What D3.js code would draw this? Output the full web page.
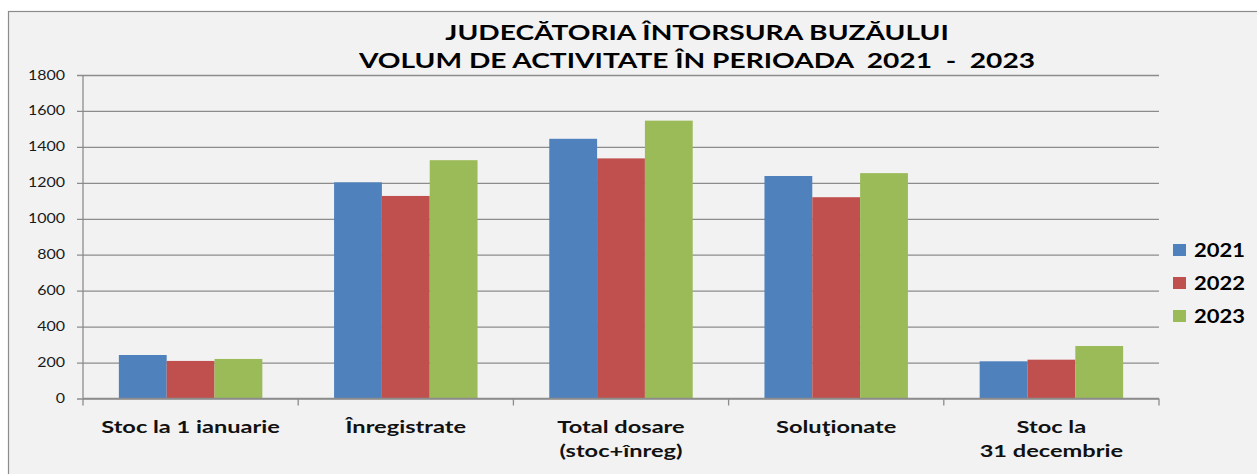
<!DOCTYPE html>
<html lang="ro">
<head>
  <meta charset="UTF-8">
  <title>Judecătoria Întorsura Buzăului</title>
  <script src="https://d3js.org/d3.v7.min.js"></script>
  <style>
    html, body {
      margin: 0;
      padding: 0;
      background: #ffffff;
      overflow: hidden;
    }
    svg {
      display: block;
      font-family: Lato, "Open Sans", sans-serif;
    }
  </style>
</head>
<body>
<svg id="chart" width="1257" height="474"></svg>

<script>
  // data
  const categories = ["Stoc la 1 ianuarie", "Înregistrate", "Total dosare", "Soluţionate", "Stoc la 31 decembrie"];
  const categoryLines = [
    ["Stoc la 1 ianuarie"],
    ["Înregistrate"],
    ["Total dosare", "(stoc+înreg)"],
    ["Soluţionate"],
    ["Stoc la", "31 decembrie"]
  ];
  const years = ["2021", "2022", "2023"];
  const values2021 = [242, 1203, 1445, 1238, 207];
  const values2022 = [209, 1127, 1336, 1120, 216];
  const values2023 = [220, 1326, 1546, 1254, 292];
  const yTicks = [0, 200, 400, 600, 800, 1000, 1200, 1400, 1600, 1800];
  const titleLines = ["JUDECĂTORIA ÎNTORSURA BUZĂULUI", "VOLUM DE ACTIVITATE ÎN PERIOADA  2021  -  2023"];

  const colors = ["#4f81bd", "#c0504d", "#9bbb59"];
  const series = [values2021, values2022, values2023];

  // the source picture is stretched sideways, so text gets a horizontal scale
  const stretchTitle = 1.34, stretchTick = 1.28, stretchCat = 1.35, stretchLegend = 1.22;

  const svg = d3.select("#chart");

  // chart area
  svg.append("rect")
          .attr("x", 8.5)
          .attr("y", 11.5)
          .attr("width", 1300)
          .attr("height", 500)
          .attr("fill", "#f2f2f2")
          .attr("stroke", "#8c8c8c")
          .attr("stroke-width", 1.2);

  const plotLeft = 83, plotRight = 1159, plotTop = 75, plotBottom = 398.5;

  const x = d3.scaleBand()
          .domain(categories)
          .range([plotLeft, plotRight])
          .paddingInner(1 / 3)
          .paddingOuter(1 / 6);

  const xs = d3.scaleBand()
          .domain(years)
          .range([0, x.bandwidth()]);

  const y = d3.scaleLinear()
          .domain([0, 1800])
          .range([plotBottom, plotTop]);

  // gridlines + y axis
  const yAxis = d3.axisLeft(y)
          .tickValues(yTicks)
          .tickSize(-(plotRight - plotLeft))
          .tickPadding(18)
          .tickFormat(d3.format("d"));

  const gy = svg.append("g")
          .attr("transform", `translate(${plotLeft},0)`)
          .call(yAxis);
  gy.select(".domain").remove();
  gy.selectAll(".tick line")
          .attr("x1", -6)
          .attr("stroke", "#8c8c8c")
          .attr("stroke-width", 1.3);
  gy.selectAll(".tick text")
          .attr("x", -18 / stretchTick)
          .attr("transform", `scale(${stretchTick},1)`)
          .attr("fill", "#1a1a1a")
          .style("font-family", "Lato, sans-serif")
          .style("font-size", "12.5px");

  svg.append("line")
          .attr("x1", plotLeft).attr("x2", plotLeft)
          .attr("y1", plotTop).attr("y2", plotBottom)
          .attr("stroke", "#8c8c8c")
          .attr("stroke-width", 1.3);

  // bars
  const groups = svg.append("g")
          .selectAll("g")
          .data(categories)
          .join("g")
          .attr("transform", d => `translate(${x(d)},0)`);

  groups.selectAll("rect")
          .data((d, i) => years.map((yr, k) => ({year: yr, value: series[k][i], k})))
          .join("rect")
          .attr("x", d => xs(d.year))
          .attr("width", xs.bandwidth())
          .attr("y", d => y(d.value))
          .attr("height", d => y(0) - y(d.value))
          .attr("fill", d => colors[d.k]);

  // x axis line + category ticks
  svg.append("line")
          .attr("x1", plotLeft).attr("x2", plotRight)
          .attr("y1", plotBottom).attr("y2", plotBottom)
          .attr("stroke", "#8c8c8c")
          .attr("stroke-width", 1.3);

  const boundaries = d3.range(categories.length + 1).map(i => plotLeft + i * x.step());
  svg.append("g")
          .selectAll("line")
          .data(boundaries)
          .join("line")
          .attr("x1", d => d).attr("x2", d => d)
          .attr("y1", plotBottom).attr("y2", plotBottom + 7)
          .attr("stroke", "#8c8c8c")
          .attr("stroke-width", 1.3);

  // category labels
  const catLabel = svg.append("g")
          .selectAll("text")
          .data(categories)
          .join("text")
          .attr("transform", d => `translate(${x(d) + x.bandwidth() / 2},433) scale(${stretchCat},1)`)
          .attr("text-anchor", "middle")
          .attr("fill", "#111")
          .style("font-size", "17.5px")
          .style("font-weight", "bold");
  catLabel.selectAll("tspan")
          .data((d, i) => categoryLines[i])
          .join("tspan")
          .attr("x", 0)
          .attr("dy", (d, i) => i === 0 ? 0 : 24)
          .text(d => d);

  // title
  svg.append("g")
          .selectAll("text")
          .data(titleLines)
          .join("text")
          .attr("transform", (d, i) => `translate(697,${40 + i * 28}) scale(${stretchTitle},1)`)
          .attr("text-anchor", "middle")
          .attr("fill", "#000")
          .style("font-size", "21px")
          .style("font-weight", "bold")
          .style("white-space", "pre")
          .text(d => d);

  // legend
  const legend = svg.append("g")
          .selectAll("g")
          .data(years)
          .join("g")
          .attr("transform", (d, i) => `translate(1173,${250 + i * 33})`);
  legend.append("rect")
          .attr("x", 0)
          .attr("y", -6)
          .attr("width", 13)
          .attr("height", 12)
          .attr("fill", (d, i) => colors[i]);
  legend.append("text")
          .attr("transform", `translate(21,6.5) scale(${stretchLegend},1)`)
          .attr("fill", "#000")
          .style("font-size", "18px")
          .style("font-weight", "bold")
          .text(d => d);
</script>
</body>
</html>
